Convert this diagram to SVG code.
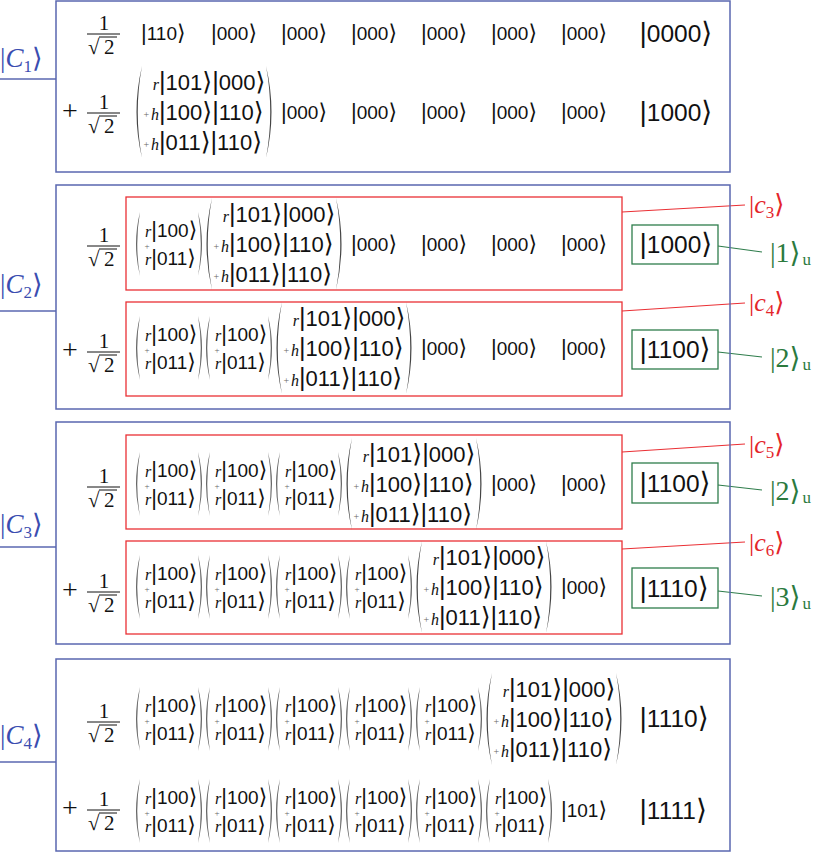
<svg xmlns="http://www.w3.org/2000/svg" width="817" height="852" viewBox="0 0 817 852">
<style>
text{font-family:'Liberation Sans','DejaVu Sans',sans-serif;fill:#111}
.a{font-size:1.15em}
.bx{fill:none;stroke:#5a67b0;stroke-width:1.5}
.rb{fill:none;stroke:#ea3035;stroke-width:1.3}
.gb{fill:none;stroke:#2f7d4c;stroke-width:1.3}
.cb{stroke:#5a67b0;stroke-width:1.3}
.cr{stroke:#ea3035;stroke-width:1.2}
.cg{stroke:#2f7d4c;stroke-width:1.2}
.kr{font-size:19px}
.kv{font-size:19px}
.km{font-size:22px}
.kb{font-size:24.5px}
.it{font-family:'Liberation Serif','DejaVu Serif',serif;font-style:italic;font-size:16px}
.sp{font-family:'Liberation Serif','DejaVu Serif',serif;font-size:10px;fill:#666}
.sv{font-family:'Liberation Serif','DejaVu Serif',serif;font-size:9px;fill:#666}
.rm{font-family:'Liberation Serif','DejaVu Serif',serif;font-size:21px}
.pls{font-family:'Liberation Serif','DejaVu Serif',serif;font-size:28px}
.fl{stroke:#111;stroke-width:1}
.pv{fill:#666}
.pm{fill:#444}
.lC{font-family:'Liberation Serif','DejaVu Serif','DejaVu Sans',serif;font-size:27px;fill:#3b4db0}
.lc{font-family:'Liberation Serif','DejaVu Serif','DejaVu Sans',serif;font-size:26px;fill:#e4262b}
.lg{font-family:'Liberation Serif','DejaVu Serif','DejaVu Sans',serif;font-size:28px;fill:#2b7a3e}
</style>
<rect width="817" height="852" fill="#fff"/>

<g id="labels">
<text class="lC" x="0" y="67">|<tspan font-style="italic">C</tspan><tspan font-size="17" dy="5">1</tspan><tspan dy="-5">⟩</tspan></text>
<text class="lC" x="0" y="293">|<tspan font-style="italic">C</tspan><tspan font-size="17" dy="5">2</tspan><tspan dy="-5">⟩</tspan></text>
<text class="lC" x="0" y="533">|<tspan font-style="italic">C</tspan><tspan font-size="17" dy="5">3</tspan><tspan dy="-5">⟩</tspan></text>
<text class="lC" x="0" y="744">|<tspan font-style="italic">C</tspan><tspan font-size="17" dy="5">4</tspan><tspan dy="-5">⟩</tspan></text>
<text class="lc" x="749" y="213">|<tspan font-style="italic">c</tspan><tspan font-size="17" dy="5">3</tspan><tspan dy="-5">⟩</tspan></text>
<text class="lc" x="749" y="311">|<tspan font-style="italic">c</tspan><tspan font-size="17" dy="5">4</tspan><tspan dy="-5">⟩</tspan></text>
<text class="lc" x="749" y="453">|<tspan font-style="italic">c</tspan><tspan font-size="17" dy="5">5</tspan><tspan dy="-5">⟩</tspan></text>
<text class="lc" x="749" y="551">|<tspan font-style="italic">c</tspan><tspan font-size="17" dy="5">6</tspan><tspan dy="-5">⟩</tspan></text>
<text class="lg" x="770" y="262">|1⟩<tspan font-size="17" dx="2" dy="3">u</tspan></text>
<text class="lg" x="770" y="367">|2⟩<tspan font-size="17" dx="2" dy="3">u</tspan></text>
<text class="lg" x="770" y="500">|2⟩<tspan font-size="17" dx="2" dy="3">u</tspan></text>
<text class="lg" x="770" y="606">|3⟩<tspan font-size="17" dx="2" dy="3">u</tspan></text>
</g>

<g id="connectors">
<line class="cb" x1="0" y1="79" x2="56" y2="79"/>
<line class="cb" x1="0" y1="311" x2="56" y2="311"/>
<line class="cb" x1="0" y1="547" x2="56" y2="547"/>
<line class="cb" x1="0" y1="762" x2="56" y2="762"/>
<line class="cr" x1="622" y1="212" x2="745" y2="205"/>
<line class="cr" x1="622" y1="311" x2="745" y2="303"/>
<line class="cr" x1="622" y1="452" x2="745" y2="444"/>
<line class="cr" x1="622" y1="549" x2="745" y2="542"/>
<line class="cg" x1="718" y1="246" x2="762" y2="252"/>
<line class="cg" x1="718" y1="352" x2="762" y2="357"/>
<line class="cg" x1="718" y1="485" x2="762" y2="490"/>
<line class="cg" x1="718" y1="591" x2="762" y2="596"/>
</g>

<g id="C1">
<rect class="bx" x="56" y="1" width="674" height="171"/>
<g transform="translate(0,34)"><line class="fl" x1="87" y1="0" x2="120" y2="0"/><line class="fl" x1="99" y1="3" x2="117" y2="3"/><text class="rm"><tspan x="98.8" y="-4.5">1</tspan><tspan x="88" y="19.5">√</tspan><tspan x="104">2</tspan></text></g>
<text class="kr" x="141" y="39.8"><tspan class="a">|</tspan>110<tspan class="a">⟩</tspan></text>
<text class="kr" x="211" y="39.8"><tspan class="a">|</tspan>000<tspan class="a">⟩</tspan></text>
<text class="kr" x="281" y="39.8"><tspan class="a">|</tspan>000<tspan class="a">⟩</tspan></text>
<text class="kr" x="351" y="39.8"><tspan class="a">|</tspan>000<tspan class="a">⟩</tspan></text>
<text class="kr" x="421" y="39.8"><tspan class="a">|</tspan>000<tspan class="a">⟩</tspan></text>
<text class="kr" x="491" y="39.8"><tspan class="a">|</tspan>000<tspan class="a">⟩</tspan></text>
<text class="kr" x="561" y="39.8"><tspan class="a">|</tspan>000<tspan class="a">⟩</tspan></text>
<text class="kb" x="639.5" y="41.8"><tspan class="a">|</tspan>0000<tspan class="a">⟩</tspan></text>
<text class="pls" x="62" y="120">+</text>
<g transform="translate(0,113)"><line class="fl" x1="87" y1="0" x2="120" y2="0"/><line class="fl" x1="99" y1="3" x2="117" y2="3"/><text class="rm"><tspan x="98.8" y="-4.5">1</tspan><tspan x="88" y="19.5">√</tspan><tspan x="104">2</tspan></text></g>
<g transform="translate(134,112)"><path class="pm" d="M8,-46Q-3,0 8,46Q-0.5,0 8,-46Z"/><path class="pm" d="M132,-46Q143,0 132,46Q140.5,0 132,-46Z"/><text class="km"><tspan class="it" x="18.8" y="-22">r</tspan><tspan class="a">|</tspan>101<tspan class="a">⟩|</tspan>000<tspan class="a">⟩</tspan><tspan class="sp" x="9.5" y="6">+</tspan><tspan class="it" x="17" y="8">h</tspan><tspan class="a">|</tspan>100<tspan class="a">⟩|</tspan>110<tspan class="a">⟩</tspan><tspan class="sp" x="9.5" y="36">+</tspan><tspan class="it" x="17" y="38">h</tspan><tspan class="a">|</tspan>011<tspan class="a">⟩|</tspan>110<tspan class="a">⟩</tspan></text></g>
<text class="kr" x="281" y="118.8"><tspan class="a">|</tspan>000<tspan class="a">⟩</tspan></text>
<text class="kr" x="351" y="118.8"><tspan class="a">|</tspan>000<tspan class="a">⟩</tspan></text>
<text class="kr" x="421" y="118.8"><tspan class="a">|</tspan>000<tspan class="a">⟩</tspan></text>
<text class="kr" x="491" y="118.8"><tspan class="a">|</tspan>000<tspan class="a">⟩</tspan></text>
<text class="kr" x="561" y="118.8"><tspan class="a">|</tspan>000<tspan class="a">⟩</tspan></text>
<text class="kb" x="639.5" y="120.8"><tspan class="a">|</tspan>1000<tspan class="a">⟩</tspan></text>
</g>

<g id="C2">
<rect class="bx" x="56" y="185" width="674" height="224"/>
<rect class="rb" x="126" y="197" width="496" height="93"/>
<rect class="rb" x="126" y="302" width="496" height="94"/>
<rect class="gb" x="632" y="225" width="86" height="39"/>
<rect class="gb" x="632" y="330" width="86" height="39"/>
<g transform="translate(0,246)"><line class="fl" x1="87" y1="0" x2="120" y2="0"/><line class="fl" x1="99" y1="3" x2="117" y2="3"/><text class="rm"><tspan x="98.8" y="-4.5">1</tspan><tspan x="88" y="19.5">√</tspan><tspan x="104">2</tspan></text></g>
<g transform="translate(134,244)"><path class="pv" d="M6,-32Q-2,0 6,32Q0.5,0 6,-32Z"/><path class="pv" d="M64,-32Q72,0 64,32Q69.5,0 64,-32Z"/><text class="kv"><tspan class="it" x="11" y="-7.2">r</tspan><tspan class="a">|</tspan>100<tspan class="a">⟩</tspan><tspan class="sv" x="10.5" y="4.5">+</tspan><tspan class="it" x="11" y="20.8">r</tspan><tspan class="a">|</tspan>011<tspan class="a">⟩</tspan></text></g>
<g transform="translate(204,244)"><path class="pm" d="M8,-46Q-3,0 8,46Q-0.5,0 8,-46Z"/><path class="pm" d="M132,-46Q143,0 132,46Q140.5,0 132,-46Z"/><text class="km"><tspan class="it" x="18.8" y="-22">r</tspan><tspan class="a">|</tspan>101<tspan class="a">⟩|</tspan>000<tspan class="a">⟩</tspan><tspan class="sp" x="9.5" y="6">+</tspan><tspan class="it" x="17" y="8">h</tspan><tspan class="a">|</tspan>100<tspan class="a">⟩|</tspan>110<tspan class="a">⟩</tspan><tspan class="sp" x="9.5" y="36">+</tspan><tspan class="it" x="17" y="38">h</tspan><tspan class="a">|</tspan>011<tspan class="a">⟩|</tspan>110<tspan class="a">⟩</tspan></text></g>
<text class="kr" x="351" y="250.8"><tspan class="a">|</tspan>000<tspan class="a">⟩</tspan></text>
<text class="kr" x="421" y="250.8"><tspan class="a">|</tspan>000<tspan class="a">⟩</tspan></text>
<text class="kr" x="491" y="250.8"><tspan class="a">|</tspan>000<tspan class="a">⟩</tspan></text>
<text class="kr" x="561" y="250.8"><tspan class="a">|</tspan>000<tspan class="a">⟩</tspan></text>
<text class="kb" x="639.5" y="253.3"><tspan class="a">|</tspan>1000<tspan class="a">⟩</tspan></text>
<text class="pls" x="62" y="359">+</text>
<g transform="translate(0,352)"><line class="fl" x1="87" y1="0" x2="120" y2="0"/><line class="fl" x1="99" y1="3" x2="117" y2="3"/><text class="rm"><tspan x="98.8" y="-4.5">1</tspan><tspan x="88" y="19.5">√</tspan><tspan x="104">2</tspan></text></g>
<g transform="translate(134,348)"><path class="pv" d="M6,-32Q-2,0 6,32Q0.5,0 6,-32Z"/><path class="pv" d="M64,-32Q72,0 64,32Q69.5,0 64,-32Z"/><text class="kv"><tspan class="it" x="11" y="-7.2">r</tspan><tspan class="a">|</tspan>100<tspan class="a">⟩</tspan><tspan class="sv" x="10.5" y="4.5">+</tspan><tspan class="it" x="11" y="20.8">r</tspan><tspan class="a">|</tspan>011<tspan class="a">⟩</tspan></text></g>
<g transform="translate(204,348)"><path class="pv" d="M6,-32Q-2,0 6,32Q0.5,0 6,-32Z"/><path class="pv" d="M64,-32Q72,0 64,32Q69.5,0 64,-32Z"/><text class="kv"><tspan class="it" x="11" y="-7.2">r</tspan><tspan class="a">|</tspan>100<tspan class="a">⟩</tspan><tspan class="sv" x="10.5" y="4.5">+</tspan><tspan class="it" x="11" y="20.8">r</tspan><tspan class="a">|</tspan>011<tspan class="a">⟩</tspan></text></g>
<g transform="translate(274,348)"><path class="pm" d="M8,-46Q-3,0 8,46Q-0.5,0 8,-46Z"/><path class="pm" d="M132,-46Q143,0 132,46Q140.5,0 132,-46Z"/><text class="km"><tspan class="it" x="18.8" y="-22">r</tspan><tspan class="a">|</tspan>101<tspan class="a">⟩|</tspan>000<tspan class="a">⟩</tspan><tspan class="sp" x="9.5" y="6">+</tspan><tspan class="it" x="17" y="8">h</tspan><tspan class="a">|</tspan>100<tspan class="a">⟩|</tspan>110<tspan class="a">⟩</tspan><tspan class="sp" x="9.5" y="36">+</tspan><tspan class="it" x="17" y="38">h</tspan><tspan class="a">|</tspan>011<tspan class="a">⟩|</tspan>110<tspan class="a">⟩</tspan></text></g>
<text class="kr" x="421" y="354.8"><tspan class="a">|</tspan>000<tspan class="a">⟩</tspan></text>
<text class="kr" x="491" y="354.8"><tspan class="a">|</tspan>000<tspan class="a">⟩</tspan></text>
<text class="kr" x="561" y="354.8"><tspan class="a">|</tspan>000<tspan class="a">⟩</tspan></text>
<text class="kb" x="639.5" y="358.3"><tspan class="a">|</tspan>1100<tspan class="a">⟩</tspan></text>
</g>

<g id="C3">
<rect class="bx" x="56" y="422" width="674" height="222"/>
<rect class="rb" x="126" y="435" width="496" height="94"/>
<rect class="rb" x="126" y="541" width="496" height="93"/>
<rect class="gb" x="632" y="463" width="86" height="40"/>
<rect class="gb" x="632" y="568" width="86" height="40"/>
<g transform="translate(0,487)"><line class="fl" x1="87" y1="0" x2="120" y2="0"/><line class="fl" x1="99" y1="3" x2="117" y2="3"/><text class="rm"><tspan x="98.8" y="-4.5">1</tspan><tspan x="88" y="19.5">√</tspan><tspan x="104">2</tspan></text></g>
<g transform="translate(134,484)"><path class="pv" d="M6,-32Q-2,0 6,32Q0.5,0 6,-32Z"/><path class="pv" d="M64,-32Q72,0 64,32Q69.5,0 64,-32Z"/><text class="kv"><tspan class="it" x="11" y="-7.2">r</tspan><tspan class="a">|</tspan>100<tspan class="a">⟩</tspan><tspan class="sv" x="10.5" y="4.5">+</tspan><tspan class="it" x="11" y="20.8">r</tspan><tspan class="a">|</tspan>011<tspan class="a">⟩</tspan></text></g>
<g transform="translate(204,484)"><path class="pv" d="M6,-32Q-2,0 6,32Q0.5,0 6,-32Z"/><path class="pv" d="M64,-32Q72,0 64,32Q69.5,0 64,-32Z"/><text class="kv"><tspan class="it" x="11" y="-7.2">r</tspan><tspan class="a">|</tspan>100<tspan class="a">⟩</tspan><tspan class="sv" x="10.5" y="4.5">+</tspan><tspan class="it" x="11" y="20.8">r</tspan><tspan class="a">|</tspan>011<tspan class="a">⟩</tspan></text></g>
<g transform="translate(274,484)"><path class="pv" d="M6,-32Q-2,0 6,32Q0.5,0 6,-32Z"/><path class="pv" d="M64,-32Q72,0 64,32Q69.5,0 64,-32Z"/><text class="kv"><tspan class="it" x="11" y="-7.2">r</tspan><tspan class="a">|</tspan>100<tspan class="a">⟩</tspan><tspan class="sv" x="10.5" y="4.5">+</tspan><tspan class="it" x="11" y="20.8">r</tspan><tspan class="a">|</tspan>011<tspan class="a">⟩</tspan></text></g>
<g transform="translate(344,484)"><path class="pm" d="M8,-46Q-3,0 8,46Q-0.5,0 8,-46Z"/><path class="pm" d="M132,-46Q143,0 132,46Q140.5,0 132,-46Z"/><text class="km"><tspan class="it" x="18.8" y="-22">r</tspan><tspan class="a">|</tspan>101<tspan class="a">⟩|</tspan>000<tspan class="a">⟩</tspan><tspan class="sp" x="9.5" y="6">+</tspan><tspan class="it" x="17" y="8">h</tspan><tspan class="a">|</tspan>100<tspan class="a">⟩|</tspan>110<tspan class="a">⟩</tspan><tspan class="sp" x="9.5" y="36">+</tspan><tspan class="it" x="17" y="38">h</tspan><tspan class="a">|</tspan>011<tspan class="a">⟩|</tspan>110<tspan class="a">⟩</tspan></text></g>
<text class="kr" x="491" y="490.8"><tspan class="a">|</tspan>000<tspan class="a">⟩</tspan></text>
<text class="kr" x="561" y="490.8"><tspan class="a">|</tspan>000<tspan class="a">⟩</tspan></text>
<text class="kb" x="639.5" y="491.8"><tspan class="a">|</tspan>1100<tspan class="a">⟩</tspan></text>
<text class="pls" x="62" y="599">+</text>
<g transform="translate(0,592)"><line class="fl" x1="87" y1="0" x2="120" y2="0"/><line class="fl" x1="99" y1="3" x2="117" y2="3"/><text class="rm"><tspan x="98.8" y="-4.5">1</tspan><tspan x="88" y="19.5">√</tspan><tspan x="104">2</tspan></text></g>
<g transform="translate(134,587)"><path class="pv" d="M6,-32Q-2,0 6,32Q0.5,0 6,-32Z"/><path class="pv" d="M64,-32Q72,0 64,32Q69.5,0 64,-32Z"/><text class="kv"><tspan class="it" x="11" y="-7.2">r</tspan><tspan class="a">|</tspan>100<tspan class="a">⟩</tspan><tspan class="sv" x="10.5" y="4.5">+</tspan><tspan class="it" x="11" y="20.8">r</tspan><tspan class="a">|</tspan>011<tspan class="a">⟩</tspan></text></g>
<g transform="translate(204,587)"><path class="pv" d="M6,-32Q-2,0 6,32Q0.5,0 6,-32Z"/><path class="pv" d="M64,-32Q72,0 64,32Q69.5,0 64,-32Z"/><text class="kv"><tspan class="it" x="11" y="-7.2">r</tspan><tspan class="a">|</tspan>100<tspan class="a">⟩</tspan><tspan class="sv" x="10.5" y="4.5">+</tspan><tspan class="it" x="11" y="20.8">r</tspan><tspan class="a">|</tspan>011<tspan class="a">⟩</tspan></text></g>
<g transform="translate(274,587)"><path class="pv" d="M6,-32Q-2,0 6,32Q0.5,0 6,-32Z"/><path class="pv" d="M64,-32Q72,0 64,32Q69.5,0 64,-32Z"/><text class="kv"><tspan class="it" x="11" y="-7.2">r</tspan><tspan class="a">|</tspan>100<tspan class="a">⟩</tspan><tspan class="sv" x="10.5" y="4.5">+</tspan><tspan class="it" x="11" y="20.8">r</tspan><tspan class="a">|</tspan>011<tspan class="a">⟩</tspan></text></g>
<g transform="translate(344,587)"><path class="pv" d="M6,-32Q-2,0 6,32Q0.5,0 6,-32Z"/><path class="pv" d="M64,-32Q72,0 64,32Q69.5,0 64,-32Z"/><text class="kv"><tspan class="it" x="11" y="-7.2">r</tspan><tspan class="a">|</tspan>100<tspan class="a">⟩</tspan><tspan class="sv" x="10.5" y="4.5">+</tspan><tspan class="it" x="11" y="20.8">r</tspan><tspan class="a">|</tspan>011<tspan class="a">⟩</tspan></text></g>
<g transform="translate(414,587)"><path class="pm" d="M8,-46Q-3,0 8,46Q-0.5,0 8,-46Z"/><path class="pm" d="M132,-46Q143,0 132,46Q140.5,0 132,-46Z"/><text class="km"><tspan class="it" x="18.8" y="-22">r</tspan><tspan class="a">|</tspan>101<tspan class="a">⟩|</tspan>000<tspan class="a">⟩</tspan><tspan class="sp" x="9.5" y="6">+</tspan><tspan class="it" x="17" y="8">h</tspan><tspan class="a">|</tspan>100<tspan class="a">⟩|</tspan>110<tspan class="a">⟩</tspan><tspan class="sp" x="9.5" y="36">+</tspan><tspan class="it" x="17" y="38">h</tspan><tspan class="a">|</tspan>011<tspan class="a">⟩|</tspan>110<tspan class="a">⟩</tspan></text></g>
<text class="kr" x="561" y="593.8"><tspan class="a">|</tspan>000<tspan class="a">⟩</tspan></text>
<text class="kb" x="639.5" y="596.8"><tspan class="a">|</tspan>1110<tspan class="a">⟩</tspan></text>
</g>

<g id="C4">
<rect class="bx" x="56" y="659" width="674" height="192"/>
<g transform="translate(0,722)"><line class="fl" x1="87" y1="0" x2="120" y2="0"/><line class="fl" x1="99" y1="3" x2="117" y2="3"/><text class="rm"><tspan x="98.8" y="-4.5">1</tspan><tspan x="88" y="19.5">√</tspan><tspan x="104">2</tspan></text></g>
<g transform="translate(134,719)"><path class="pv" d="M6,-32Q-2,0 6,32Q0.5,0 6,-32Z"/><path class="pv" d="M64,-32Q72,0 64,32Q69.5,0 64,-32Z"/><text class="kv"><tspan class="it" x="11" y="-7.2">r</tspan><tspan class="a">|</tspan>100<tspan class="a">⟩</tspan><tspan class="sv" x="10.5" y="4.5">+</tspan><tspan class="it" x="11" y="20.8">r</tspan><tspan class="a">|</tspan>011<tspan class="a">⟩</tspan></text></g>
<g transform="translate(204,719)"><path class="pv" d="M6,-32Q-2,0 6,32Q0.5,0 6,-32Z"/><path class="pv" d="M64,-32Q72,0 64,32Q69.5,0 64,-32Z"/><text class="kv"><tspan class="it" x="11" y="-7.2">r</tspan><tspan class="a">|</tspan>100<tspan class="a">⟩</tspan><tspan class="sv" x="10.5" y="4.5">+</tspan><tspan class="it" x="11" y="20.8">r</tspan><tspan class="a">|</tspan>011<tspan class="a">⟩</tspan></text></g>
<g transform="translate(274,719)"><path class="pv" d="M6,-32Q-2,0 6,32Q0.5,0 6,-32Z"/><path class="pv" d="M64,-32Q72,0 64,32Q69.5,0 64,-32Z"/><text class="kv"><tspan class="it" x="11" y="-7.2">r</tspan><tspan class="a">|</tspan>100<tspan class="a">⟩</tspan><tspan class="sv" x="10.5" y="4.5">+</tspan><tspan class="it" x="11" y="20.8">r</tspan><tspan class="a">|</tspan>011<tspan class="a">⟩</tspan></text></g>
<g transform="translate(344,719)"><path class="pv" d="M6,-32Q-2,0 6,32Q0.5,0 6,-32Z"/><path class="pv" d="M64,-32Q72,0 64,32Q69.5,0 64,-32Z"/><text class="kv"><tspan class="it" x="11" y="-7.2">r</tspan><tspan class="a">|</tspan>100<tspan class="a">⟩</tspan><tspan class="sv" x="10.5" y="4.5">+</tspan><tspan class="it" x="11" y="20.8">r</tspan><tspan class="a">|</tspan>011<tspan class="a">⟩</tspan></text></g>
<g transform="translate(414,719)"><path class="pv" d="M6,-32Q-2,0 6,32Q0.5,0 6,-32Z"/><path class="pv" d="M64,-32Q72,0 64,32Q69.5,0 64,-32Z"/><text class="kv"><tspan class="it" x="11" y="-7.2">r</tspan><tspan class="a">|</tspan>100<tspan class="a">⟩</tspan><tspan class="sv" x="10.5" y="4.5">+</tspan><tspan class="it" x="11" y="20.8">r</tspan><tspan class="a">|</tspan>011<tspan class="a">⟩</tspan></text></g>
<g transform="translate(484,719)"><path class="pm" d="M8,-46Q-3,0 8,46Q-0.5,0 8,-46Z"/><path class="pm" d="M132,-46Q143,0 132,46Q140.5,0 132,-46Z"/><text class="km"><tspan class="it" x="18.8" y="-22">r</tspan><tspan class="a">|</tspan>101<tspan class="a">⟩|</tspan>000<tspan class="a">⟩</tspan><tspan class="sp" x="9.5" y="6">+</tspan><tspan class="it" x="17" y="8">h</tspan><tspan class="a">|</tspan>100<tspan class="a">⟩|</tspan>110<tspan class="a">⟩</tspan><tspan class="sp" x="9.5" y="36">+</tspan><tspan class="it" x="17" y="38">h</tspan><tspan class="a">|</tspan>011<tspan class="a">⟩|</tspan>110<tspan class="a">⟩</tspan></text></g>
<text class="kb" x="639.5" y="726.8"><tspan class="a">|</tspan>1110<tspan class="a">⟩</tspan></text>
<text class="pls" x="62" y="817">+</text>
<g transform="translate(0,810)"><line class="fl" x1="87" y1="0" x2="120" y2="0"/><line class="fl" x1="99" y1="3" x2="117" y2="3"/><text class="rm"><tspan x="98.8" y="-4.5">1</tspan><tspan x="88" y="19.5">√</tspan><tspan x="104">2</tspan></text></g>
<g transform="translate(134,811)"><path class="pv" d="M6,-32Q-2,0 6,32Q0.5,0 6,-32Z"/><path class="pv" d="M64,-32Q72,0 64,32Q69.5,0 64,-32Z"/><text class="kv"><tspan class="it" x="11" y="-7.2">r</tspan><tspan class="a">|</tspan>100<tspan class="a">⟩</tspan><tspan class="sv" x="10.5" y="4.5">+</tspan><tspan class="it" x="11" y="20.8">r</tspan><tspan class="a">|</tspan>011<tspan class="a">⟩</tspan></text></g>
<g transform="translate(204,811)"><path class="pv" d="M6,-32Q-2,0 6,32Q0.5,0 6,-32Z"/><path class="pv" d="M64,-32Q72,0 64,32Q69.5,0 64,-32Z"/><text class="kv"><tspan class="it" x="11" y="-7.2">r</tspan><tspan class="a">|</tspan>100<tspan class="a">⟩</tspan><tspan class="sv" x="10.5" y="4.5">+</tspan><tspan class="it" x="11" y="20.8">r</tspan><tspan class="a">|</tspan>011<tspan class="a">⟩</tspan></text></g>
<g transform="translate(274,811)"><path class="pv" d="M6,-32Q-2,0 6,32Q0.5,0 6,-32Z"/><path class="pv" d="M64,-32Q72,0 64,32Q69.5,0 64,-32Z"/><text class="kv"><tspan class="it" x="11" y="-7.2">r</tspan><tspan class="a">|</tspan>100<tspan class="a">⟩</tspan><tspan class="sv" x="10.5" y="4.5">+</tspan><tspan class="it" x="11" y="20.8">r</tspan><tspan class="a">|</tspan>011<tspan class="a">⟩</tspan></text></g>
<g transform="translate(344,811)"><path class="pv" d="M6,-32Q-2,0 6,32Q0.5,0 6,-32Z"/><path class="pv" d="M64,-32Q72,0 64,32Q69.5,0 64,-32Z"/><text class="kv"><tspan class="it" x="11" y="-7.2">r</tspan><tspan class="a">|</tspan>100<tspan class="a">⟩</tspan><tspan class="sv" x="10.5" y="4.5">+</tspan><tspan class="it" x="11" y="20.8">r</tspan><tspan class="a">|</tspan>011<tspan class="a">⟩</tspan></text></g>
<g transform="translate(414,811)"><path class="pv" d="M6,-32Q-2,0 6,32Q0.5,0 6,-32Z"/><path class="pv" d="M64,-32Q72,0 64,32Q69.5,0 64,-32Z"/><text class="kv"><tspan class="it" x="11" y="-7.2">r</tspan><tspan class="a">|</tspan>100<tspan class="a">⟩</tspan><tspan class="sv" x="10.5" y="4.5">+</tspan><tspan class="it" x="11" y="20.8">r</tspan><tspan class="a">|</tspan>011<tspan class="a">⟩</tspan></text></g>
<g transform="translate(484,811)"><path class="pv" d="M6,-32Q-2,0 6,32Q0.5,0 6,-32Z"/><path class="pv" d="M64,-32Q72,0 64,32Q69.5,0 64,-32Z"/><text class="kv"><tspan class="it" x="11" y="-7.2">r</tspan><tspan class="a">|</tspan>100<tspan class="a">⟩</tspan><tspan class="sv" x="10.5" y="4.5">+</tspan><tspan class="it" x="11" y="20.8">r</tspan><tspan class="a">|</tspan>011<tspan class="a">⟩</tspan></text></g>
<text class="kr" x="561" y="816.8"><tspan class="a">|</tspan>101<tspan class="a">⟩</tspan></text>
<text class="kb" x="639.5" y="818.8"><tspan class="a">|</tspan>1111<tspan class="a">⟩</tspan></text>
</g>
</svg>
